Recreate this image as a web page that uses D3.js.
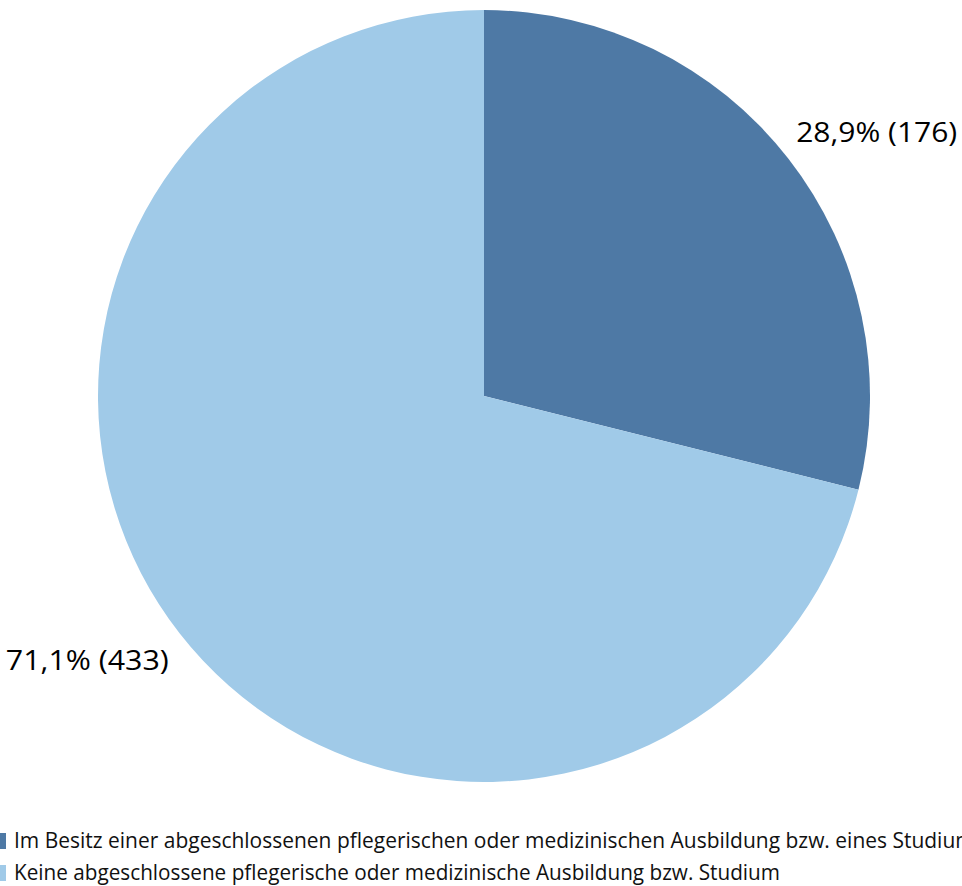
<!DOCTYPE html>
<html><head><meta charset="utf-8">
<script src="https://cdn.jsdelivr.net/npm/d3@7"></script>
<style>body{margin:0;background:#fff;overflow:hidden}svg{display:block}</style>
</head><body>
<script>
const categories = [
  "Im Besitz einer abgeschlossenen pflegerischen oder medizinischen Ausbildung bzw. eines Studium",
  "Keine abgeschlossene pflegerische oder medizinische Ausbildung bzw. Studium"
];
const counts = [176, 433];
const percentLabels = ["28,9%", "71,1%"];
const colors = ["#4e79a5", "#a0cae8"];

const W = 962, H = 886;
const svg = d3.select("body").append("svg").attr("width", W).attr("height", H);
const font = "'Open Sans', sans-serif";

const cx = 484, cy = 396, R = 386;
const pie = d3.pie().sort(null).value(d => d)(counts);
const arc = d3.arc().innerRadius(0).outerRadius(R);
const g = svg.append("g").attr("transform", `translate(${cx},${cy})`);
g.selectAll("path").data(pie).join("path")
  .attr("d", arc).attr("fill", (d, i) => colors[i]);

// data labels
const lblArc = d3.arc().innerRadius(405).outerRadius(405);
const labelWidths = [161, 163];
pie.forEach((d, i) => {
  const [x, y] = lblArc.centroid(d);
  const right = x > 0;
  g.append("text")
    .attr("x", right ? x - 7 : x + 4)
    .attr("y", right ? y - 5 : y + 25)
    .attr("text-anchor", right ? "start" : "end")
    .attr("font-family", font).attr("font-size", 27.5).attr("fill", "#000")
    .attr("textLength", labelWidths[i]).attr("lengthAdjust", "spacingAndGlyphs")
    .text(`${percentLabels[i]} (${counts[i]})`);
});

// legend
const leg = svg.append("g");
const texts = categories.map((c, i) => {
  leg.append("rect").attr("x", 0).attr("y", 833 + i * 32).attr("width", 6).attr("height", 16)
    .attr("fill", colors[i]);
  return leg.append("text").attr("x", 14).attr("y", 848 + i * 31.5)
    .attr("font-family", font).attr("font-size", 21).attr("fill", "#111").text(c);
});
const targets = [960 / 766 * 1.012, 1];
const w2 = texts[1].node().getComputedTextLength();
const s = 766 / w2;
texts.forEach((t, i) => {
  const w = t.node().getComputedTextLength();
  t.attr("textLength", w * s * (i === 0 ? 1.012 : 1)).attr("lengthAdjust", "spacingAndGlyphs");
});
</script>
</body></html>
